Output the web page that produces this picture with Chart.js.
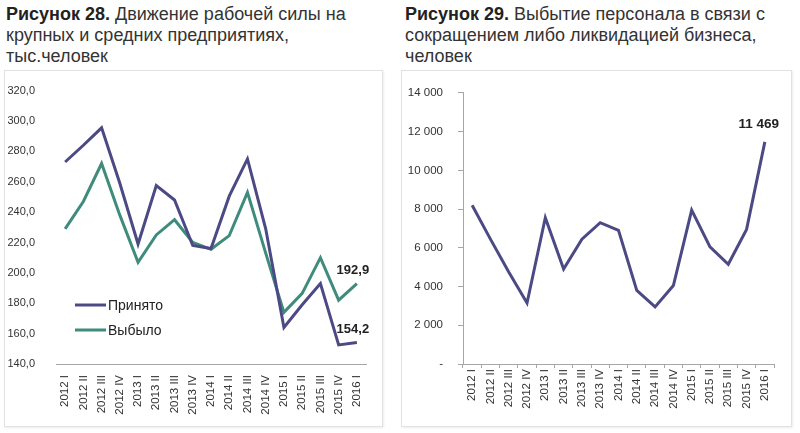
<!DOCTYPE html>
<html>
<head>
<meta charset="utf-8">
<script src="https://cdn.jsdelivr.net/npm/chart.js@4"></script>
<style>
  body { margin: 0; background: #fff; font-family: "Liberation Sans", Arial, sans-serif; }
  .block { position: absolute; top: 0; }
  .title { position: absolute; top: 4px; left: 6px; font-size: 18px; line-height: 21px; color: #333; white-space: nowrap; }
  .title b { color: #222; }
  .panel { position: absolute; top: 70px; border: 1px solid #e2e2e2; box-shadow: 1px 1px 2px rgba(0,0,0,0.08); background: #fff; }
  canvas { display: block; }
</style>
</head>
<body>
<div class="block" style="left:0">
  <div class="title"><b>Рисунок 28.</b> Движение рабочей силы на<br>крупных и средних предприятиях,<br>тыс.человек</div>
  <div class="panel" style="left:4px; width:377px; height:355px;">
    <canvas id="chartLeft" width="377" height="355"></canvas>
  </div>
</div>
<div class="block" style="left:401px">
  <div class="title" style="left:4px"><b>Рисунок 29.</b> Выбытие персонала в связи с<br>сокращением либо ликвидацией бизнеса,<br>человек</div>
  <div class="panel" style="left:0; width:389px; height:355px;">
    <canvas id="chartRight" width="389" height="355"></canvas>
  </div>
</div>
<script>
// Quarters
const quarters = ['2012 I', '2012 II', '2012 III', '2012 IV', '2013 I', '2013 II', '2013 III', '2013 IV',
  '2014 I', '2014 II', '2014 III', '2014 IV', '2015 I', '2015 II', '2015 III', '2015 IV', '2016 I'];

// Рисунок 28, тыс. человек
const hired = [273, 284, 295.5, 259, 219, 257.5, 248, 218, 216, 250.5, 275, 229, 164, 179, 193, 152.6, 154.2];
const left = [229, 247, 272, 238, 207, 225, 235, 220, 215.5, 224.5, 253, 213, 174, 186.5, 210, 182, 192.9];

// Рисунок 29, человек
const dismissed = [8200, 6450, 4750, 3150, 7550, 4900, 6450, 7300, 6900, 3800, 2950, 4050, 7950, 6050, 5150, 6950, 11469];

const purple = '#4c4a84';
const green = '#3f8c7d';
const axisColor = '#a6a6a6';
const textColor = '#333';

function fmtDecimal(v) { return v.toFixed(1).replace('.', ','); }
function fmtThousands(v) {
  if (v === 0) return '-';
  return String(v).replace(/\B(?=(\d{3})+(?!\d))/g, ' ');
}

// draws a bold value above the last point of a dataset
const lastLabel = {
  id: 'lastLabel',
  afterDatasetsDraw(chart, args, opts) {
    const c = chart.ctx;
    c.save();
    c.font = 'bold ' + opts.size + 'px "Liberation Sans", Arial, sans-serif';
    c.fillStyle = '#222';
    c.textAlign = 'center';
    c.textBaseline = 'middle';
    chart.data.datasets.forEach((ds, i) => {
      const pts = chart.getDatasetMeta(i).data;
      const p = pts[pts.length - 1];
      const v = ds.data[ds.data.length - 1];
      c.fillText(opts.format(v), p.x + opts.dx, p.y + opts.dy);
    });
    c.restore();
  }
};

// legend inside the plot area
const innerLegend = {
  id: 'innerLegend',
  afterDraw(chart, args, opts) {
    if (!opts.show) return;
    const c = chart.ctx;
    c.save();
    c.font = '14px "Liberation Sans", Arial, sans-serif';
    c.textBaseline = 'middle';
    chart.data.datasets.forEach((ds, i) => {
      const y = opts.y + i * 25;
      c.strokeStyle = ds.borderColor;
      c.lineWidth = 3;
      c.beginPath();
      c.moveTo(opts.x, y);
      c.lineTo(opts.x + 31, y);
      c.stroke();
      c.fillStyle = '#222';
      c.fillText(ds.label, opts.x + 33, y + 1);
    });
    c.restore();
  }
};

function lineSet(label, data, color) {
  return { label: label, data: data, borderColor: color, backgroundColor: color,
    borderWidth: 3, pointRadius: 0, tension: 0 };
}

new Chart(document.getElementById('chartLeft'), {
  type: 'line',
  data: {
    labels: quarters,
    datasets: [lineSet('Принято', hired, purple), lineSet('Выбыло', left, green)]
  },
  options: {
    responsive: false,
    animation: false,
    layout: { padding: { top: 16, right: 16, left: 0, bottom: 0 } },
    scales: {
      x: {
        offset: true,
        grid: { display: false },
        border: { display: true, color: axisColor, width: 1 },
        ticks: { color: textColor, font: { size: 11.5, family: '"Liberation Sans", Arial' },
          minRotation: 90, maxRotation: 90, autoSkip: false, padding: 3 },
        afterFit(s) { s.height = 62; }
      },
      y: {
        min: 140, max: 320,
        grid: { display: false },
        border: { display: false },
        ticks: { stepSize: 20, color: textColor, padding: 13,
          font: { size: 11, family: '"Liberation Sans", Arial' }, callback: fmtDecimal },
        afterFit(s) { s.width = 51; }
      }
    },
    plugins: {
      legend: { display: false },
      tooltip: { enabled: false },
      lastLabel: { dx: -4, dy: -13, size: 13, format: fmtDecimal },
      innerLegend: { show: true, x: 70, y: 234 }
    }
  },
  plugins: [lastLabel, innerLegend]
});

new Chart(document.getElementById('chartRight'), {
  type: 'line',
  data: {
    labels: quarters,
    datasets: [lineSet('Выбытие', dismissed, purple)]
  },
  options: {
    responsive: false,
    animation: false,
    layout: { padding: { top: 19, right: 17, left: 0, bottom: 0 } },
    scales: {
      x: {
        offset: true,
        grid: { display: true, offset: true, drawOnChartArea: false, drawTicks: true, tickLength: 4, color: axisColor },
        border: { display: true, color: axisColor, width: 1 },
        ticks: { color: textColor, font: { size: 11.5, family: '"Liberation Sans", Arial' },
          minRotation: 90, maxRotation: 90, autoSkip: false, padding: 1 },
        afterFit(s) { s.height = 62; }
      },
      y: {
        min: 0, max: 14000,
        grid: { display: true, drawOnChartArea: false, drawTicks: true, tickLength: 5, color: axisColor },
        border: { display: true, color: axisColor, width: 1 },
        ticks: { stepSize: 2000, color: textColor, padding: 15,
          font: { size: 11.5, family: '"Liberation Sans", Arial' }, callback: fmtThousands },
        afterFit(s) { s.width = 61; }
      }
    },
    plugins: {
      legend: { display: false },
      tooltip: { enabled: false },
      lastLabel: { dx: -6, dy: -18, size: 13.5, format: fmtThousands },
      innerLegend: { show: false }
    }
  },
  plugins: [lastLabel, innerLegend]
});
</script>
</body>
</html>
